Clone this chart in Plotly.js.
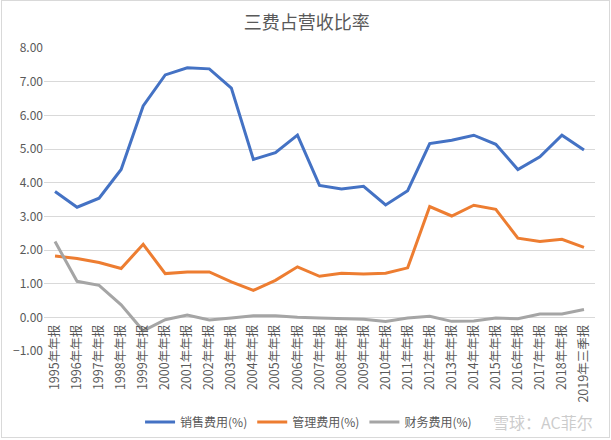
<!DOCTYPE html>
<html>
<head>
<meta charset="utf-8">
<script src="https://cdn.plot.ly/plotly-3.0.1.min.js"></script>
<style>
  html, body { margin: 0; padding: 0; background: #fff; }
  #chart { width: 611px; height: 440px; }
  #frame { position: absolute; left: 1px; top: 0px; width: 607px; height: 436px; border: 1px solid #d9d9d9; pointer-events: none; }
</style>
</head>
<body>
<div id="chart"></div>
<div id="frame"></div>
<script>
var periods = ['1995年年报','1996年年报','1997年年报','1998年年报','1999年年报','2000年年报',
  '2001年年报','2002年年报','2003年年报','2004年年报','2005年年报','2006年年报','2007年年报',
  '2008年年报','2009年年报','2010年年报','2011年年报','2012年年报','2013年年报','2014年年报',
  '2015年年报','2016年年报','2017年年报','2018年年报','2019年三季报'];

var salesExp = [3.74, 3.27, 3.54, 4.39, 6.28, 7.20, 7.41, 7.38, 6.81, 4.69, 4.89, 5.41, 3.92,
  3.81, 3.89, 3.34, 3.76, 5.16, 5.26, 5.41, 5.14, 4.39, 4.77, 5.41, 4.97];
var adminExp = [1.82, 1.75, 1.63, 1.45, 2.17, 1.30, 1.35, 1.35, 1.05, 0.80, 1.10, 1.50, 1.22,
  1.31, 1.29, 1.31, 1.47, 3.29, 3.01, 3.33, 3.21, 2.35, 2.25, 2.32, 2.08];
var finExp = [2.25, 1.07, 0.95, 0.37, -0.40, -0.07, 0.07, -0.08, -0.02, 0.05, 0.05, 0.00, -0.02,
  -0.04, -0.06, -0.12, -0.02, 0.03, -0.12, -0.11, -0.02, -0.04, 0.10, 0.10, 0.23];

var seriesNames = ['销售费用(%)', '管理费用(%)', '财务费用(%)'];
var seriesColors = ['#4472c4', '#ed7d31', '#a5a5a5'];
var allValues = [salesExp, adminExp, finExp];

var yMin = -1, yMax = 8;

var traces = allValues.map(function (vals, i) {
  return {
    x: periods,
    y: vals,
    type: 'scatter',
    mode: 'lines',
    name: seriesNames[i],
    line: { color: seriesColors[i], width: 3 }
  };
});

var layout = {
  width: 611,
  height: 440,
  margin: { l: 44, r: 16, t: 48, b: 89 },
  paper_bgcolor: '#fff',
  plot_bgcolor: '#fff',
  font: { family: '"Noto Sans CJK SC", "Microsoft YaHei", sans-serif', color: '#595959', size: 12 },
  title: {
    text: '三费占营收比率',
    x: 0.502, xanchor: 'center',
    y: 0.948, yanchor: 'middle',
    font: { size: 18, color: '#595959' }
  },
  xaxis: {
    type: 'category',
    range: [-0.5, 24.5],
    tickangle: -90,
    showgrid: false,
    zeroline: false,
    showline: false,
    ticks: '',
    ticklabelstandoff: 4,
    automargin: false,
    tickfont: { size: 12.5, color: '#595959' },
    anchor: 'free',
    // category axis crosses the value axis at 0
    position: (0 - yMin) / (yMax - yMin)
  },
  yaxis: {
    range: [yMin, yMax],
    dtick: 1,
    tickformat: '.2f',
    gridcolor: '#d9d9d9',
    gridwidth: 1,
    zeroline: false,
    showline: false,
    ticks: '',
    automargin: false,
    tickfont: { size: 12, color: '#595959' }
  },
  showlegend: true,
  legend: {
    orientation: 'h',
    xref: 'container', yref: 'container',
    x: 0.505, xanchor: 'center',
    y: 0.041, yanchor: 'middle',
    font: { size: 12, color: '#595959' }
  },
  annotations: [{
    text: '雪球：AC菲尔',
    xref: 'paper', yref: 'paper',
    x: 1.0, xanchor: 'right',
    y: -0.235, yanchor: 'middle',
    showarrow: false,
    font: { size: 16, color: 'rgba(195,195,195,0.85)' }
  }]
};

Plotly.newPlot('chart', traces, layout, { displayModeBar: false });
</script>
</body>
</html>
